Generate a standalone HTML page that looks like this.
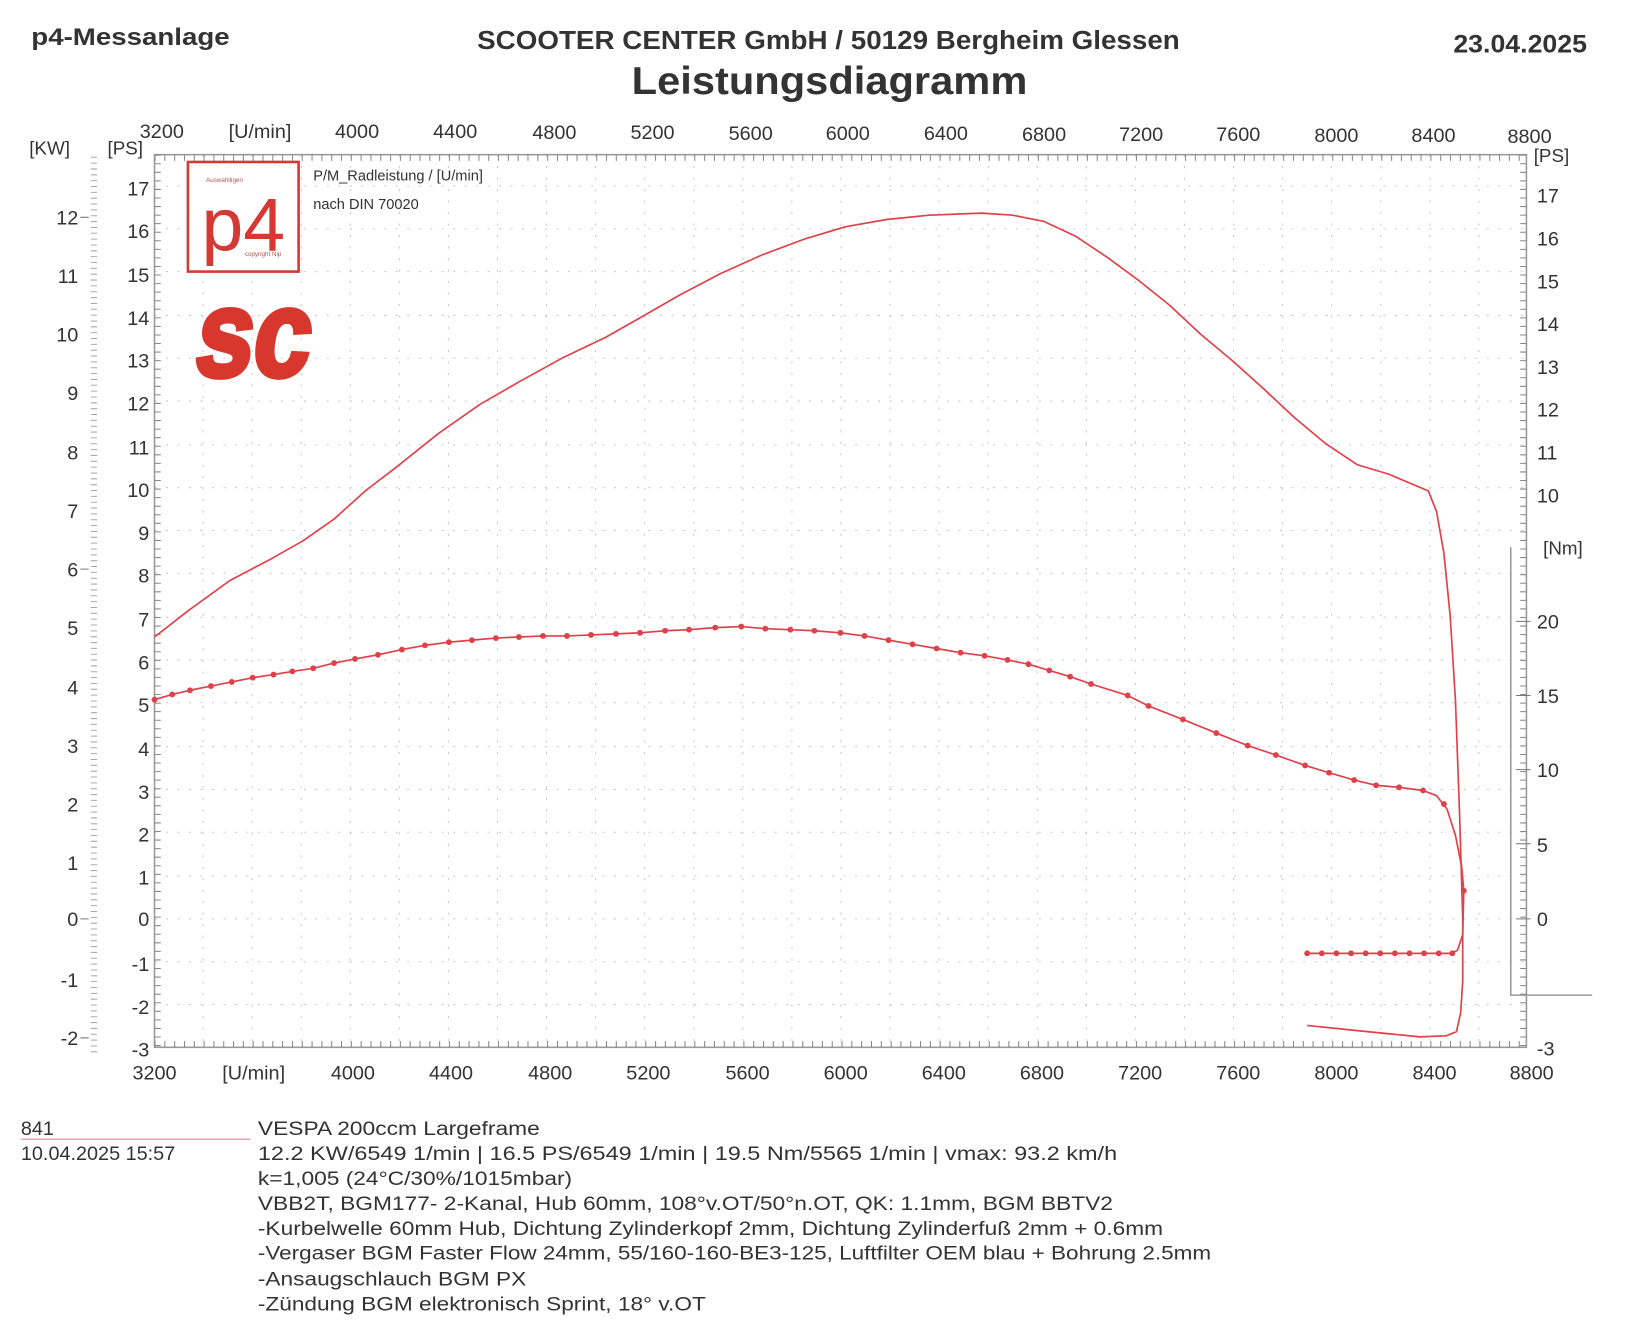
<!DOCTYPE html>
<html><head><meta charset="utf-8"><style>
html,body{margin:0;padding:0;background:#fff;}
svg{display:block;}
text{font-family:"Liberation Sans",sans-serif;fill:#333;}
</style></head><body>
<svg width="1635" height="1321" viewBox="0 0 1566 1265" xmlns="http://www.w3.org/2000/svg">
<rect width="1566" height="1265" fill="#fff"/>
<!-- header -->
<text x="30" y="43" font-size="23" font-weight="bold" textLength="190" lengthAdjust="spacingAndGlyphs">p4-Messanlage</text>
<text x="457" y="47" font-size="25" font-weight="bold" textLength="673" lengthAdjust="spacingAndGlyphs">SCOOTER CENTER GmbH / 50129 Bergheim Glessen</text>
<text x="605" y="90" font-size="37" font-weight="bold" textLength="379" lengthAdjust="spacingAndGlyphs">Leistungsdiagramm</text>
<text x="1392" y="50" font-size="24" font-weight="bold" textLength="128" lengthAdjust="spacingAndGlyphs">23.04.2025</text>

<!-- grid -->
<g stroke="#c8c8c8" stroke-width="1" stroke-dasharray="2 9">
<line x1="194.5" y1="148" x2="194.5" y2="1003"/><line x1="241.5" y1="148" x2="241.5" y2="1003"/><line x1="288.5" y1="148" x2="288.5" y2="1003"/><line x1="335.5" y1="148" x2="335.5" y2="1003"/><line x1="382.5" y1="148" x2="382.5" y2="1003"/><line x1="429.5" y1="148" x2="429.5" y2="1003"/><line x1="476.5" y1="148" x2="476.5" y2="1003"/><line x1="523.5" y1="148" x2="523.5" y2="1003"/><line x1="570.5" y1="148" x2="570.5" y2="1003"/><line x1="617.5" y1="148" x2="617.5" y2="1003"/><line x1="664.5" y1="148" x2="664.5" y2="1003"/><line x1="711.5" y1="148" x2="711.5" y2="1003"/><line x1="758.5" y1="148" x2="758.5" y2="1003"/><line x1="805.5" y1="148" x2="805.5" y2="1003"/><line x1="852.5" y1="148" x2="852.5" y2="1003"/><line x1="899.5" y1="148" x2="899.5" y2="1003"/><line x1="946.5" y1="148" x2="946.5" y2="1003"/><line x1="993.5" y1="148" x2="993.5" y2="1003"/><line x1="1040.5" y1="148" x2="1040.5" y2="1003"/><line x1="1087.5" y1="148" x2="1087.5" y2="1003"/><line x1="1134.5" y1="148" x2="1134.5" y2="1003"/><line x1="1181.5" y1="148" x2="1181.5" y2="1003"/><line x1="1228.5" y1="148" x2="1228.5" y2="1003"/><line x1="1275.5" y1="148" x2="1275.5" y2="1003"/><line x1="1322.5" y1="148" x2="1322.5" y2="1003"/><line x1="1369.5" y1="148" x2="1369.5" y2="1003"/><line x1="1416.5" y1="148" x2="1416.5" y2="1003"/>
<line x1="148" y1="178" x2="1462" y2="178"/><line x1="148" y1="219" x2="1462" y2="219"/><line x1="148" y1="260" x2="1462" y2="260"/><line x1="148" y1="302" x2="1462" y2="302"/><line x1="148" y1="343" x2="1462" y2="343"/><line x1="148" y1="384" x2="1462" y2="384"/><line x1="148" y1="426" x2="1462" y2="426"/><line x1="148" y1="467" x2="1462" y2="467"/><line x1="148" y1="508" x2="1462" y2="508"/><line x1="148" y1="549" x2="1462" y2="549"/><line x1="148" y1="591" x2="1462" y2="591"/><line x1="148" y1="632" x2="1462" y2="632"/><line x1="148" y1="673" x2="1462" y2="673"/><line x1="148" y1="715" x2="1462" y2="715"/><line x1="148" y1="756" x2="1462" y2="756"/><line x1="148" y1="797" x2="1462" y2="797"/><line x1="148" y1="839" x2="1462" y2="839"/><line x1="148" y1="880" x2="1462" y2="880"/><line x1="148" y1="921" x2="1462" y2="921"/><line x1="148" y1="962" x2="1462" y2="962"/>
</g>
<!-- frame -->
<rect x="148" y="148" width="1314" height="855" fill="none" stroke="#999" stroke-width="1.5"/>
<g stroke="#888" stroke-width="1">
<line x1="148" y1="151" x2="1462" y2="151" stroke-width="6" stroke-dasharray="1 8.4"/>
<line x1="148" y1="1000" x2="1462" y2="1000" stroke-width="6" stroke-dasharray="1 8.4"/>
<line x1="151" y1="148" x2="151" y2="1003" stroke-width="6" stroke-dasharray="1 7.2"/>
<line x1="1459" y1="148" x2="1459" y2="1003" stroke-width="6" stroke-dasharray="1 7.2"/>
<line x1="90" y1="150" x2="90" y2="1010" stroke-width="6" stroke-dasharray="1 4.6" stroke="#aaa"/>
</g>
<!-- top/bottom rpm labels -->
<g font-size="19" text-anchor="middle">
<text x="155" y="132">3200</text><text x="249" y="132">[U/min]</text><text x="342" y="132">4000</text><text x="436" y="132">4400</text><text x="531" y="133">4800</text><text x="625" y="133">5200</text><text x="719" y="134">5600</text><text x="812" y="134">6000</text><text x="906" y="134">6400</text><text x="1000" y="135">6800</text><text x="1093" y="135">7200</text><text x="1186" y="135">7600</text><text x="1280" y="136">8000</text><text x="1373" y="136">8400</text><text x="1465" y="137">8800</text>
<text x="148" y="1034">3200</text><text x="243" y="1034">[U/min]</text><text x="338" y="1034">4000</text><text x="432" y="1034">4400</text><text x="527" y="1034">4800</text><text x="621" y="1034">5200</text><text x="716" y="1034">5600</text><text x="810" y="1034">6000</text><text x="904" y="1034">6400</text><text x="998" y="1034">6800</text><text x="1092" y="1034">7200</text><text x="1186" y="1034">7600</text><text x="1280" y="1034">8000</text><text x="1374" y="1034">8400</text><text x="1467" y="1034">8800</text>
</g>
<!-- axis labels -->
<g font-size="18">
<text x="28" y="148">[KW]</text><text x="103" y="148">[PS]</text>
<text x="1469" y="155">[PS]</text><text x="1478" y="531">[Nm]</text>
</g>
<g font-size="19" text-anchor="end">
<text x="75" y="215">12</text><text x="75" y="271">11</text><text x="75" y="327">10</text><text x="75" y="383">9</text><text x="75" y="440">8</text><text x="75" y="496">7</text><text x="75" y="552">6</text><text x="75" y="608">5</text><text x="75" y="665">4</text><text x="75" y="721">3</text><text x="75" y="777">2</text><text x="75" y="833">1</text><text x="75" y="887">0</text><text x="75" y="945">-1</text><text x="75" y="1001">-2</text>
<text x="143" y="187">17</text><text x="143" y="228">16</text><text x="143" y="270">15</text><text x="143" y="311">14</text><text x="143" y="352">13</text><text x="143" y="393">12</text><text x="143" y="435">11</text><text x="143" y="476">10</text><text x="143" y="517">9</text><text x="143" y="558">8</text><text x="143" y="600">7</text><text x="143" y="641">6</text><text x="143" y="682">5</text><text x="143" y="724">4</text><text x="143" y="765">3</text><text x="143" y="806">2</text><text x="143" y="847">1</text><text x="143" y="887">0</text><text x="143" y="930">-1</text><text x="143" y="971">-2</text><text x="143" y="1012">-3</text>
</g>
<g font-size="19">
<text x="1472" y="194">17</text><text x="1472" y="235">16</text><text x="1472" y="276">15</text><text x="1472" y="317">14</text><text x="1472" y="358">13</text><text x="1472" y="399">12</text><text x="1472" y="440">11</text><text x="1472" y="481">10</text><text x="1472" y="1011">-3</text>
<text x="1472" y="602">20</text><text x="1472" y="673">15</text><text x="1472" y="744">10</text><text x="1472" y="816">5</text><text x="1472" y="887">0</text>
</g>
<g stroke="#777" stroke-width="1">
<path d="M77 208h8M77 880h8M77 994h8M77 545h8" />
<polyline points="1447,524 1447,953 1525,953" fill="none" stroke="#999" stroke-width="1.5"/>
<path d="M1452 595h14M1452 666h14M1452 737h14M1452 808h14M1452 880h14"/>
</g>
<!-- logos -->
<rect x="180" y="155" width="106" height="105" fill="#fff" stroke="#d23a33" stroke-width="2.5"/>
<text x="233" y="240" font-family="Liberation Serif,serif" font-size="72" text-anchor="middle" style="fill:#d23a33">p4</text>
<text x="215" y="174" font-size="6" text-anchor="middle" style="fill:#a55">Auswahlligen</text>
<text x="252" y="245" font-size="6" text-anchor="middle" style="fill:#a55">copyright Nip</text>
<g transform="translate(180,360) skewX(-8)">
<text x="4" y="0" font-size="118" font-weight="900" textLength="110" lengthAdjust="spacingAndGlyphs" stroke="#d8372e" stroke-width="5" style="fill:#d8372e">sc</text>
</g>
<text x="300" y="173" font-size="14">P/M_Radleistung / [U/min]</text>
<text x="300" y="200" font-size="14">nach DIN 70020</text>
<!-- curves -->
<g fill="none" stroke="#e0404a" stroke-width="1.6" stroke-linejoin="round">
<polyline points="148,610 180,585 220,556 260,535 290,518 320,497 350,470 380,447 420,415 460,387 500,364 540,342 580,323 610,306 650,283 690,262 730,244 770,229 810,217 850,210 890,206 940,204 970,206 1000,212 1030,226 1060,246 1090,268 1120,292 1150,320 1180,345 1210,372 1240,400 1270,425 1300,445 1330,454 1368,470 1376,490 1383,530 1389,590 1394,670 1398,780 1401,880 1401,940 1399,970 1395,988 1385,992 1360,993 1330,990 1300,987 1252,982"/>
<polyline points="148,670 165,665 182,661 202,657 222,653 242,649 262,646 280,643 300,640 320,635 340,631 362,627 385,622 407,618 430,615 452,613 475,611 497,610 520,609 543,609 566,608 590,607 613,606 637,604 660,603 685,601 710,600 733,602 757,603 780,604 805,606 828,609 851,613 874,617 897,621 920,625 943,628 965,632 985,636 1005,642 1025,648 1045,655 1080,666 1100,676 1133,689 1165,702 1195,714 1222,723 1250,733 1273,740 1297,747 1318,752 1340,754 1363,757 1376,762 1386,775 1394,800 1400,830 1402,853 1401,895 1396,910 1390,913 1252,913"/>
</g>
<g fill="#e0404a">
<circle cx="148" cy="670" r="2.8"/><circle cx="165" cy="665" r="2.8"/><circle cx="182" cy="661" r="2.8"/><circle cx="202" cy="657" r="2.8"/><circle cx="222" cy="653" r="2.8"/><circle cx="242" cy="649" r="2.8"/><circle cx="262" cy="646" r="2.8"/><circle cx="280" cy="643" r="2.8"/><circle cx="300" cy="640" r="2.8"/><circle cx="320" cy="635" r="2.8"/><circle cx="340" cy="631" r="2.8"/><circle cx="362" cy="627" r="2.8"/><circle cx="385" cy="622" r="2.8"/><circle cx="407" cy="618" r="2.8"/><circle cx="430" cy="615" r="2.8"/><circle cx="452" cy="613" r="2.8"/><circle cx="475" cy="611" r="2.8"/><circle cx="497" cy="610" r="2.8"/><circle cx="520" cy="609" r="2.8"/><circle cx="543" cy="609" r="2.8"/><circle cx="566" cy="608" r="2.8"/><circle cx="590" cy="607" r="2.8"/><circle cx="613" cy="606" r="2.8"/><circle cx="637" cy="604" r="2.8"/><circle cx="660" cy="603" r="2.8"/><circle cx="685" cy="601" r="2.8"/><circle cx="710" cy="600" r="2.8"/><circle cx="733" cy="602" r="2.8"/><circle cx="757" cy="603" r="2.8"/><circle cx="780" cy="604" r="2.8"/><circle cx="805" cy="606" r="2.8"/><circle cx="828" cy="609" r="2.8"/><circle cx="851" cy="613" r="2.8"/><circle cx="874" cy="617" r="2.8"/><circle cx="897" cy="621" r="2.8"/><circle cx="920" cy="625" r="2.8"/><circle cx="943" cy="628" r="2.8"/><circle cx="965" cy="632" r="2.8"/><circle cx="985" cy="636" r="2.8"/><circle cx="1005" cy="642" r="2.8"/><circle cx="1025" cy="648" r="2.8"/><circle cx="1045" cy="655" r="2.8"/><circle cx="1080" cy="666" r="2.8"/><circle cx="1100" cy="676" r="2.8"/><circle cx="1133" cy="689" r="2.8"/><circle cx="1165" cy="702" r="2.8"/><circle cx="1195" cy="714" r="2.8"/><circle cx="1222" cy="723" r="2.8"/><circle cx="1250" cy="733" r="2.8"/><circle cx="1273" cy="740" r="2.8"/><circle cx="1297" cy="747" r="2.8"/><circle cx="1318" cy="752" r="2.8"/><circle cx="1340" cy="754" r="2.8"/><circle cx="1363" cy="757" r="2.8"/><circle cx="1383" cy="770" r="2.8"/><circle cx="1402" cy="853" r="2.8"/>
<circle cx="1252" cy="913" r="2.8"/><circle cx="1266" cy="913" r="2.8"/><circle cx="1280" cy="913" r="2.8"/><circle cx="1294" cy="913" r="2.8"/><circle cx="1308" cy="913" r="2.8"/><circle cx="1322" cy="913" r="2.8"/><circle cx="1336" cy="913" r="2.8"/><circle cx="1350" cy="913" r="2.8"/><circle cx="1364" cy="913" r="2.8"/><circle cx="1378" cy="913" r="2.8"/><circle cx="1391" cy="913" r="2.8"/>
</g>
<!-- footer -->
<line x1="20" y1="1091" x2="240" y2="1091" stroke="#d88" stroke-width="1"/>
<g font-size="19">
<text x="20" y="1087">841</text>
<text x="20" y="1111">10.04.2025  15:57</text>
<text x="247" y="1087" textLength="270" lengthAdjust="spacingAndGlyphs">VESPA 200ccm Largeframe</text>
<text x="247" y="1111" textLength="823" lengthAdjust="spacingAndGlyphs">12.2 KW/6549 1/min  |  16.5 PS/6549 1/min  |  19.5 Nm/5565 1/min | vmax: 93.2 km/h</text>
<text x="247" y="1135" textLength="301" lengthAdjust="spacingAndGlyphs">k=1,005 (24°C/30%/1015mbar)</text>
<text x="247" y="1159" textLength="819" lengthAdjust="spacingAndGlyphs">VBB2T, BGM177- 2-Kanal, Hub 60mm, 108°v.OT/50°n.OT, QK: 1.1mm, BGM BBTV2</text>
<text x="247" y="1183" textLength="867" lengthAdjust="spacingAndGlyphs">-Kurbelwelle 60mm Hub, Dichtung Zylinderkopf 2mm, Dichtung Zylinderfuß 2mm + 0.6mm</text>
<text x="247" y="1206" textLength="913" lengthAdjust="spacingAndGlyphs">-Vergaser BGM Faster Flow 24mm, 55/160-160-BE3-125, Luftfilter OEM blau + Bohrung 2.5mm</text>
<text x="247" y="1231" textLength="257" lengthAdjust="spacingAndGlyphs">-Ansaugschlauch BGM PX</text>
<text x="247" y="1255" textLength="429" lengthAdjust="spacingAndGlyphs">-Zündung BGM elektronisch Sprint, 18° v.OT</text>
</g>
</svg>
</body></html>
